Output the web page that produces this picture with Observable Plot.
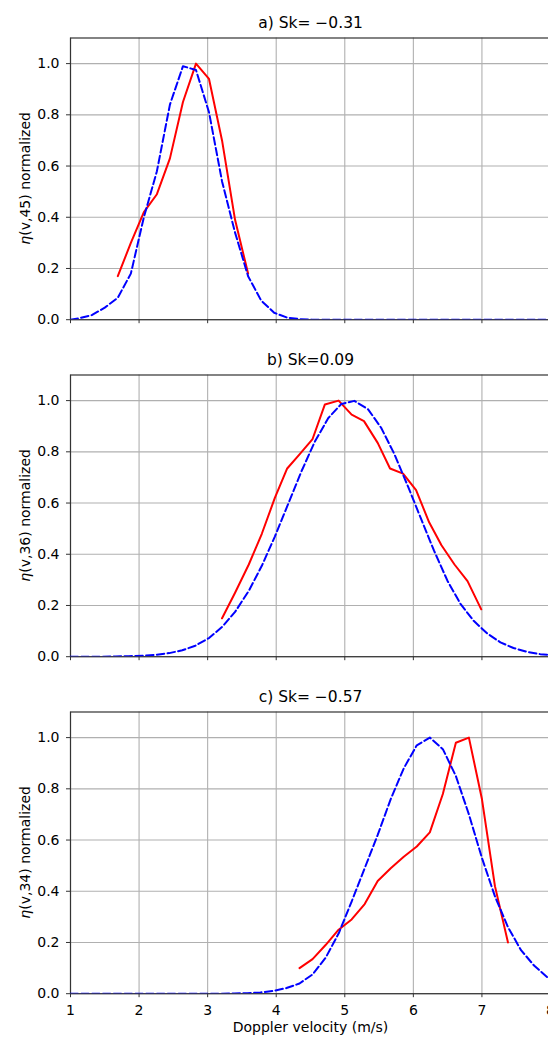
<!DOCTYPE html>
<html>
<head>
<meta charset="utf-8">
<script src="https://cdn.jsdelivr.net/npm/d3@7"></script>
<script src="https://cdn.jsdelivr.net/npm/@observablehq/plot@0.6"></script>
<style>
  html, body { margin: 0; padding: 0; background: #fff; }
  svg { display: block; }
</style>
</head>
<body>
<div id="chart"></div>
<script>
// ---- tick values ----
const xTicks = [1, 2, 3, 4, 5, 6, 7, 8];
const yTicks = [0, 0.2, 0.4, 0.6, 0.8, 1.0];

// ---- titles / labels ----
const titles = ["a) Sk= \u22120.31", "b) Sk=0.09", "c) Sk= \u22120.57"];
const yLabelRest = ["(v,45) normalized", "(v,36) normalized", "(v,34) normalized"];
const xLabel = "Doppler velocity (m/s)";

// ---- panel a ----
const redA_x = [1.69, 1.88, 2.07, 2.26, 2.45, 2.64, 2.83, 3.02, 3.21, 3.40, 3.59];
const redA_y = [0.17, 0.30, 0.42, 0.49, 0.63, 0.85, 1.00, 0.94, 0.70, 0.39, 0.18];
const blueA_x = [1.00, 1.12, 1.31, 1.50, 1.69, 1.88, 2.07, 2.26, 2.45, 2.64, 2.83, 3.02, 3.21, 3.40, 3.59, 3.78, 3.97, 4.16, 4.35, 4.54, 8.00];
const blueA_y = [0.000, 0.005, 0.018, 0.047, 0.086, 0.180, 0.400, 0.580, 0.840, 0.990, 0.975, 0.810, 0.540, 0.340, 0.170, 0.075, 0.027, 0.008, 0.002, 0.000, 0.000];

// ---- panel b ----
const redB_x = [3.21, 3.40, 3.60, 3.79, 3.98, 4.16, 4.34, 4.53, 4.71, 4.91, 5.10, 5.28, 5.48, 5.66, 5.85, 6.04, 6.23, 6.41, 6.60, 6.79, 6.99];
const redB_y = [0.15, 0.25, 0.36, 0.48, 0.62, 0.735, 0.79, 0.85, 0.985, 1.00, 0.945, 0.92, 0.835, 0.735, 0.715, 0.65, 0.525, 0.435, 0.36, 0.295, 0.185];
const blueB_x = [1.00, 1.27, 1.47, 1.66, 1.85, 2.05, 2.24, 2.44, 2.63, 2.82, 3.02, 3.21, 3.40, 3.60, 3.79, 3.98, 4.18, 4.37, 4.56, 4.76, 4.95, 5.14, 5.34, 5.53, 5.72, 5.92, 6.11, 6.30, 6.50, 6.69, 6.88, 7.08, 7.27, 7.46, 7.66, 7.85, 8.04];
const blueB_y = [0.000, 0.000, 0.000, 0.001, 0.002, 0.004, 0.007, 0.014, 0.025, 0.043, 0.073, 0.116, 0.175, 0.257, 0.355, 0.469, 0.600, 0.725, 0.838, 0.932, 0.987, 0.999, 0.966, 0.894, 0.793, 0.666, 0.540, 0.415, 0.295, 0.205, 0.140, 0.090, 0.056, 0.034, 0.019, 0.010, 0.006];

// ---- panel c ----
const redC_x = [4.34, 4.53, 4.72, 4.91, 5.10, 5.29, 5.48, 5.67, 5.86, 6.05, 6.24, 6.43, 6.62, 6.81, 7.00, 7.19, 7.38];
const redC_y = [0.10, 0.135, 0.19, 0.25, 0.29, 0.35, 0.44, 0.49, 0.535, 0.575, 0.63, 0.78, 0.98, 1.00, 0.76, 0.42, 0.20];
const blueC_x = [1.00, 3.20, 3.39, 3.58, 3.77, 3.96, 4.15, 4.34, 4.53, 4.72, 4.91, 5.10, 5.29, 5.48, 5.67, 5.86, 6.05, 6.24, 6.43, 6.62, 6.81, 7.00, 7.19, 7.38, 7.57, 7.76, 7.95, 8.14];
const blueC_y = [0.000, 0.000, 0.001, 0.002, 0.005, 0.011, 0.022, 0.040, 0.075, 0.140, 0.235, 0.360, 0.490, 0.620, 0.760, 0.880, 0.970, 1.000, 0.955, 0.850, 0.700, 0.530, 0.380, 0.260, 0.170, 0.110, 0.065, 0.040];

const panels = [
  {title: titles[0], yl: yLabelRest[0], rx: redA_x, ry: redA_y, bx: blueA_x, by: blueA_y, height: 337, marginBottom: 17.8, last: false},
  {title: titles[1], yl: yLabelRest[1], rx: redB_x, ry: redB_y, bx: blueB_x, by: blueB_y, height: 337, marginBottom: 17.8, last: false},
  {title: titles[2], yl: yLabelRest[2], rx: redC_x, ry: redC_y, bx: blueC_x, by: blueC_y, height: 364, marginBottom: 44.8, last: true}
];

const FONT = "'DejaVu Sans', 'Liberation Sans', sans-serif";
const marginTop = 37.5;
const container = document.getElementById("chart");

for (const p of panels) {
  const red = p.rx.map((x, i) => ({x, y: p.ry[i]}));
  const blue = p.bx.map((x, i) => ({x, y: p.by[i]}));
  const marks = [
    Plot.gridX(xTicks, {stroke: "#b0b0b0", strokeOpacity: 1, strokeWidth: 1.1}),
    Plot.gridY(yTicks, {stroke: "#b0b0b0", strokeOpacity: 1, strokeWidth: 1.1}),
    Plot.frame({stroke: "#333", strokeWidth: 1.2}),
    Plot.axisX(xTicks, {tickSize: 4, tickPadding: 7, stroke: "#333", label: null,
      tickFormat: p.last ? (d => String(d)) : (() => ""), fontSize: 14}),
    Plot.axisY(yTicks, {tickSize: 4, tickPadding: 7, stroke: "#333", label: null,
      tickFormat: d3.format(".1f"), fontSize: 14}),
    Plot.line(red, {x: "x", y: "y", stroke: "#ff0000", strokeWidth: 2, clip: true}),
    Plot.line(blue, {x: "x", y: "y", stroke: "#0000ff", strokeWidth: 2, strokeDasharray: "7.5,3.3", clip: true}),
    Plot.text([p.title], {frameAnchor: "top", dy: -14.6, lineAnchor: "middle", fontSize: 15.5, fill: "#000", text: d => d})
  ];
  if (p.last) {
    marks.push(Plot.text([xLabel], {frameAnchor: "bottom", dy: 34, lineAnchor: "middle", fontSize: 14, fill: "#000", text: d => d}));
  }
  const svg = Plot.plot({
    width: 548,
    height: p.height,
    marginLeft: 70,
    marginRight: -2,
    marginTop,
    marginBottom: p.marginBottom,
    style: {fontFamily: FONT, fontSize: "14px", background: "#fff", color: "#000", overflow: "hidden"},
    x: {domain: [1, 8]},
    y: {domain: [0, 1.1]},
    marks
  });
  // y-axis label with italic eta
  const cy = (marginTop + (p.height - p.marginBottom)) / 2;
  const t = d3.select(svg).append("text")
    .attr("transform", `translate(30,${cy}) rotate(-90)`)
    .attr("text-anchor", "middle")
    .attr("font-family", FONT)
    .attr("font-size", 14)
    .attr("fill", "#000");
  t.append("tspan").attr("font-style", "italic").text("\u03b7");
  t.append("tspan").text(p.yl);
  container.appendChild(svg);
}
</script>
</body>
</html>
